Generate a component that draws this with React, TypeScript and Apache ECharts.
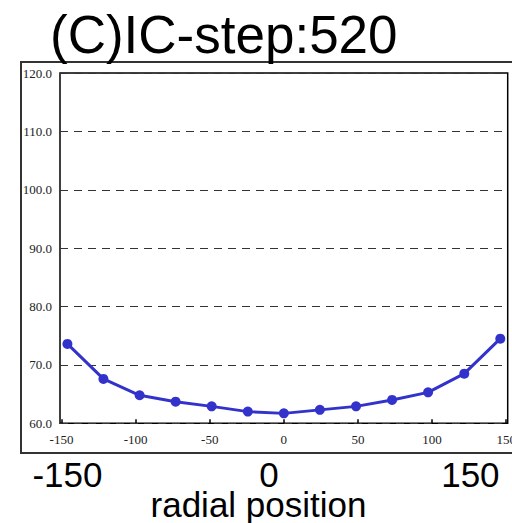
import React, { useEffect, useRef } from "react";
import * as echarts from "echarts";

const titleText = "(C)IC-step:520";
const xAxisName = "radial position";
const radialPositions = [-146, -121.7, -97.3, -73, -48.7, -24.3, 0, 24.3, 48.7, 73, 97.3, 121.7, 146];
const values = [73.6, 67.6, 64.8, 63.7, 62.9, 62.0, 61.7, 62.3, 62.9, 64.0, 65.3, 68.5, 74.5];
const innerXTicks = [-150, -100, -50, 0, 50, 100, 150];
const outerXTicks = [-150, 0, 150];

export default function App() {
  const ref = useRef<HTMLDivElement>(null);
  useEffect(() => {
    if (!ref.current) return;
    const chart = echarts.init(ref.current, null, { renderer: "svg" });
    const serif = "Liberation Serif";
    const sans = "Liberation Sans";
    chart.setOption({
      animation: false,
      backgroundColor: "#ffffff",
      grid: [
        {
          left: 60,
          top: 73,
          width: 447.7,
          height: 350.3,
          show: true,
          borderColor: "#000",
          borderWidth: 1.5,
          backgroundColor: "transparent",
          containLabel: false,
          outerBoundsMode: "none",
        },
        {
          left: 21,
          top: 62,
          width: 498,
          height: 391,
          show: true,
          borderColor: "#333",
          borderWidth: 2,
          backgroundColor: "transparent",
          containLabel: false,
          outerBoundsMode: "none",
        },
      ],
      graphic: [
        {
          type: "text",
          left: 50,
          top: 8,
          style: {
            text: titleText,
            font: `53px "${sans}"`,
            fill: "#000",
          },
        },
        {
          type: "text",
          x: 258.5,
          y: 504,
          style: {
            text: xAxisName,
            font: `35px "${sans}"`,
            fill: "#000",
            align: "center",
            verticalAlign: "middle",
            lineHeight: 28,
          },
        },
      ],
      xAxis: [
        {
          type: "value",
          gridIndex: 0,
          min: -151,
          max: 151,
          axisLine: { show: false },
          axisTick: {
            show: true,
            inside: true,
            length: 4,
            customValues: innerXTicks,
            lineStyle: { color: "#000", width: 1.5 },
          },
          axisLabel: {
            customValues: innerXTicks,
            fontFamily: serif,
            fontSize: 13,
            color: "#222",
            margin: 10,
          },
          splitLine: { show: false },
        },
        {
          type: "value",
          gridIndex: 1,
          min: -184.6,
          max: 186.2,
          axisLine: { show: false },
          axisTick: { show: false },
          axisLabel: {
            customValues: outerXTicks,
            fontFamily: sans,
            fontSize: 35,
            lineHeight: 26,
            color: "#000",
            margin: 21,
            verticalAlign: "middle",
          },
          splitLine: { show: false },
        },
      ],
      yAxis: [
        {
          type: "value",
          gridIndex: 0,
          min: 60,
          max: 120,
          interval: 10,
          axisLine: { show: false },
          axisTick: { show: false },
          axisLabel: {
            fontFamily: serif,
            fontSize: 13,
            color: "#222",
            margin: 8,
            formatter: (v: number) => v.toFixed(1),
          },
          splitLine: {
            show: true,
            lineStyle: { color: "#333", type: [8, 6], width: 1 },
          },
        },
        {
          type: "value",
          gridIndex: 1,
          show: false,
          min: 0,
          max: 1,
        },
      ],
      series: [
        {
          type: "line",
          xAxisIndex: 0,
          yAxisIndex: 0,
          data: radialPositions.map((x, i) => [x, values[i]]),
          symbol: "circle",
          symbolSize: 10,
          lineStyle: { color: "#3333cc", width: 3 },
          itemStyle: { color: "#3333cc" },
        },
      ],
    });
    return () => chart.dispose();
  }, []);
  return (
    <div
      ref={ref}
      style={{ position: "fixed", left: 0, top: 0, width: 512, height: 523 }}
    />
  );
}
